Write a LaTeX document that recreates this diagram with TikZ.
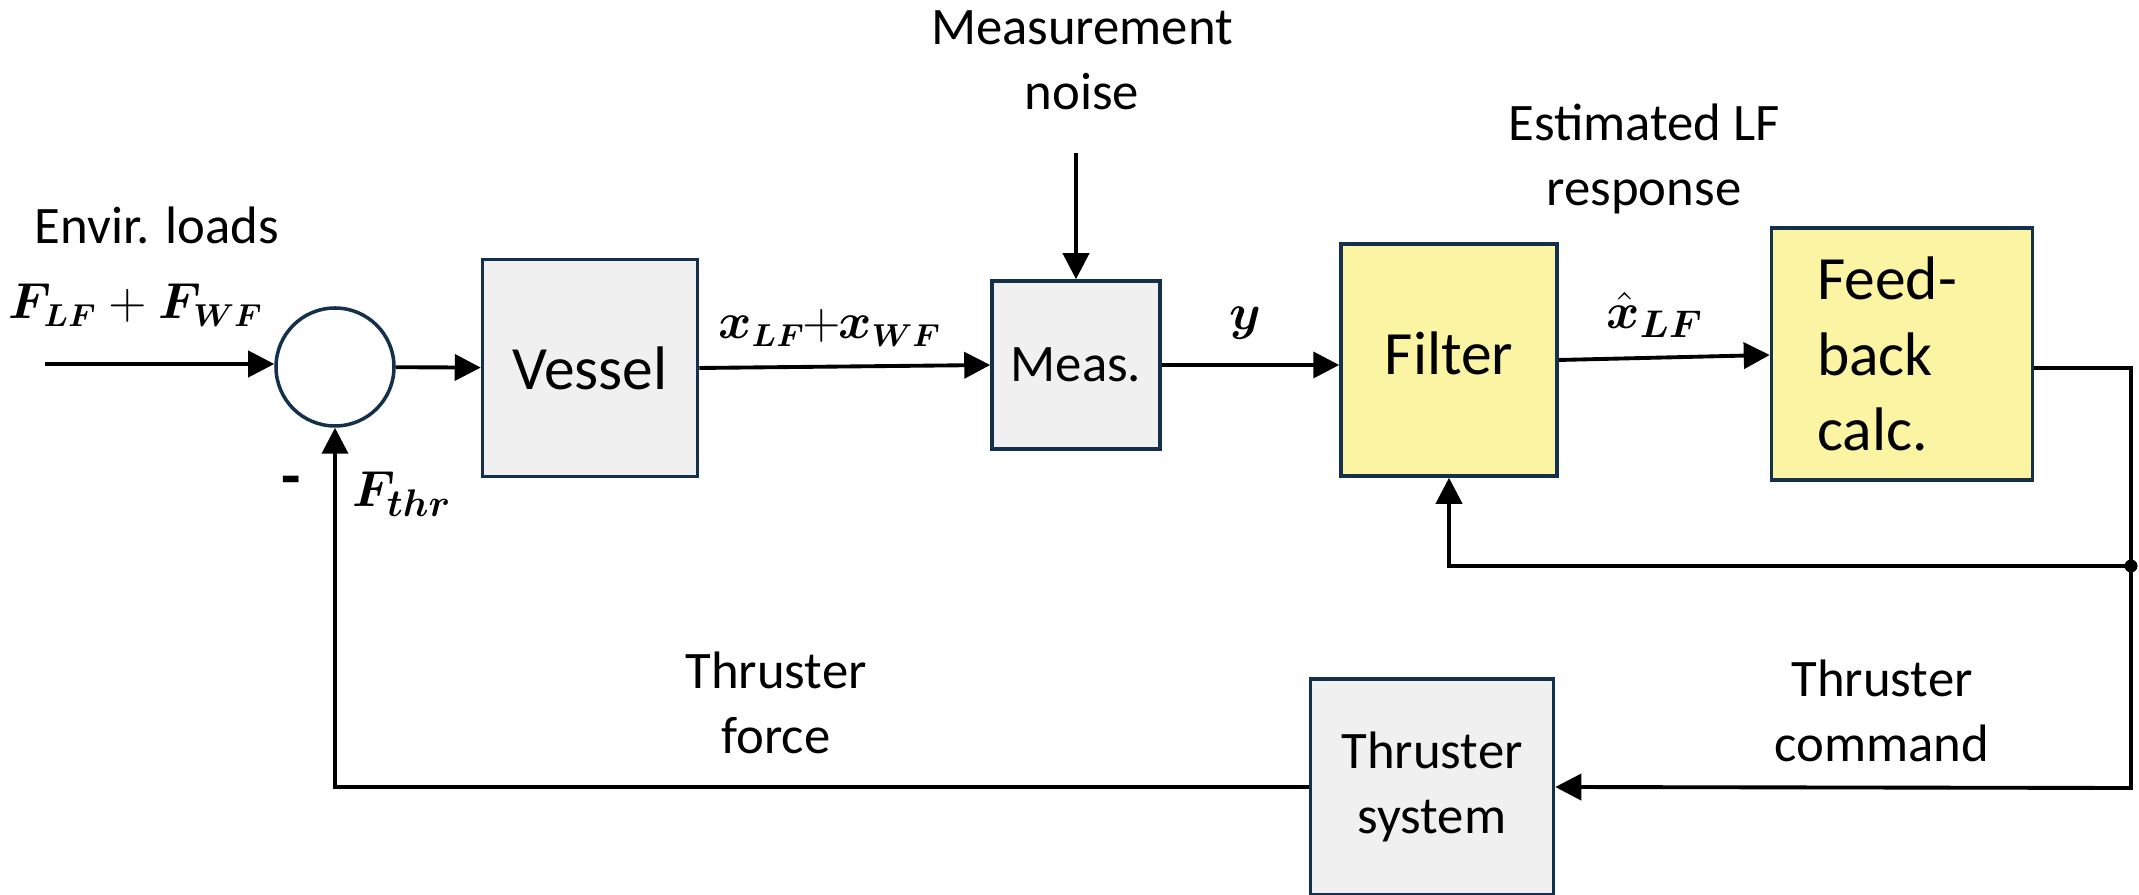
\documentclass[tikz,border=0pt]{standalone}
\usepackage{fontspec}
\setmainfont{Carlito}
\usepackage{amsmath}
\usepackage{bm}
\usetikzlibrary{arrows.meta, positioning, calc}

\definecolor{boxline}{RGB}{20,48,77}
\definecolor{boxgray}{RGB}{240,240,240}
\definecolor{boxyellow}{RGB}{251,245,163}

\begin{document}
\begin{tikzpicture}[
    >={Triangle[length=2.6mm,width=2.6mm]},
    block/.style={draw=boxline, line width=1pt, fill=boxgray, inner sep=0pt},
    calcblock/.style={block, fill=boxyellow},
    sumnode/.style={circle, draw=boxline, line width=1pt, fill=white, minimum size=1.18cm, inner sep=0pt},
    lbl/.style={font=\fontsize{15}{18.5}\selectfont, align=center},
    biglbl/.style={font=\fontsize{17.5}{21.5}\selectfont},
    sig/.style={font=\fontsize{15}{18}\selectfont, inner sep=1pt},
    conn/.style={->, line width=1.1pt},
    wire/.style={line width=1.1pt}
]
\useasboundingbox (0,0) rectangle (21.39,8.95);

% Blocks
\node[sumnode] (sum) at (3.35,5.28) {};
\node[block, minimum width=2.15cm, minimum height=2.17cm, biglbl] (vessel) at (5.90,5.27) {Vessel};
\node[block, minimum width=1.68cm, minimum height=1.68cm, lbl] (meas) at (10.76,5.30) {Meas.};
\node[calcblock, minimum width=2.16cm, minimum height=2.32cm, biglbl] (filter) at (14.49,5.35) {\raisebox{0.14cm}{Filter}};
\node[calcblock, minimum width=2.61cm, minimum height=2.52cm, biglbl, align=left] (fb) at (19.02,5.41) {\hspace*{-0.3cm}Feed-\\\hspace*{-0.3cm}back\\\hspace*{-0.3cm}calc.};
\node[block, minimum width=2.43cm, minimum height=2.16cm, lbl] (thr) at (14.32,1.08) {Thruster\\system};

% Free ends and corners
\coordinate (in) at (0.45,5.31);
\coordinate (noisetop) at (10.76,7.42);
\coordinate (corner) at (21.31,5.27);
\coordinate (split) at (21.31,3.29);
\coordinate (cmd) at (21.31,1.07);

% Texts
\node[lbl] (envlbl) at (1.57,6.70) {Envir. loads};
\node[sig, font=\fontsize{13.5}{16}\selectfont] (flbl) at (1.36,5.90) {$\bm{F_{LF}}+\bm{F_{WF}}$};
\node[lbl] (noiselbl) at (10.82,8.35) {Measurement\\noise};
\node[sig, font=\fontsize{13.5}{16}\selectfont] (xlbl) at (8.30,5.67) {$\bm{x_{LF}}\mkern-1mu{+}\mkern-1mu\bm{x_{WF}}$};
\node[sig] (ylbl) at (12.45,5.72) {$\bm{y}$};
\node[lbl] (estlbl) at (16.44,7.36) {Estimated LF\\response};
\node[sig] (xhatlbl) at (16.55,5.80) {$\bm{\hat{x}_{LF}}$};
\node[lbl] (cmdlbl) at (18.82,1.84) {Thruster\\command};
\node[lbl] (forcelbl) at (7.76,1.92) {Thruster\\force};
\node[font=\fontsize{18}{18}\selectfont\bfseries] (minus) at (2.91,4.08) {-};
\node[sig] (fthrlbl) at (4.02,4.01) {$\bm{F_{thr}}$};

% Forward path
\draw[conn] (in) -- (in -| sum.west);
\draw[conn] (sum) -- (vessel);
\draw[conn] (vessel.east) -- (meas.west);
\draw[conn] (noisetop) -- (meas.north);
\draw[conn] (meas.east) -- (meas.east -| filter.west);
\draw[conn] (filter.east) -- ([yshift=0.05cm]fb.west |- filter.east);

% Feedback paths
\draw[wire] (fb.east |- corner) -- (corner) -- (split);
\draw[conn] (split) -- (cmd) -- (thr.east);
\draw[conn] (split) -| (filter.south);
\draw[conn] (thr.west) -| (sum.south);
\fill (split) circle (0.065);

\end{tikzpicture}
\end{document}
